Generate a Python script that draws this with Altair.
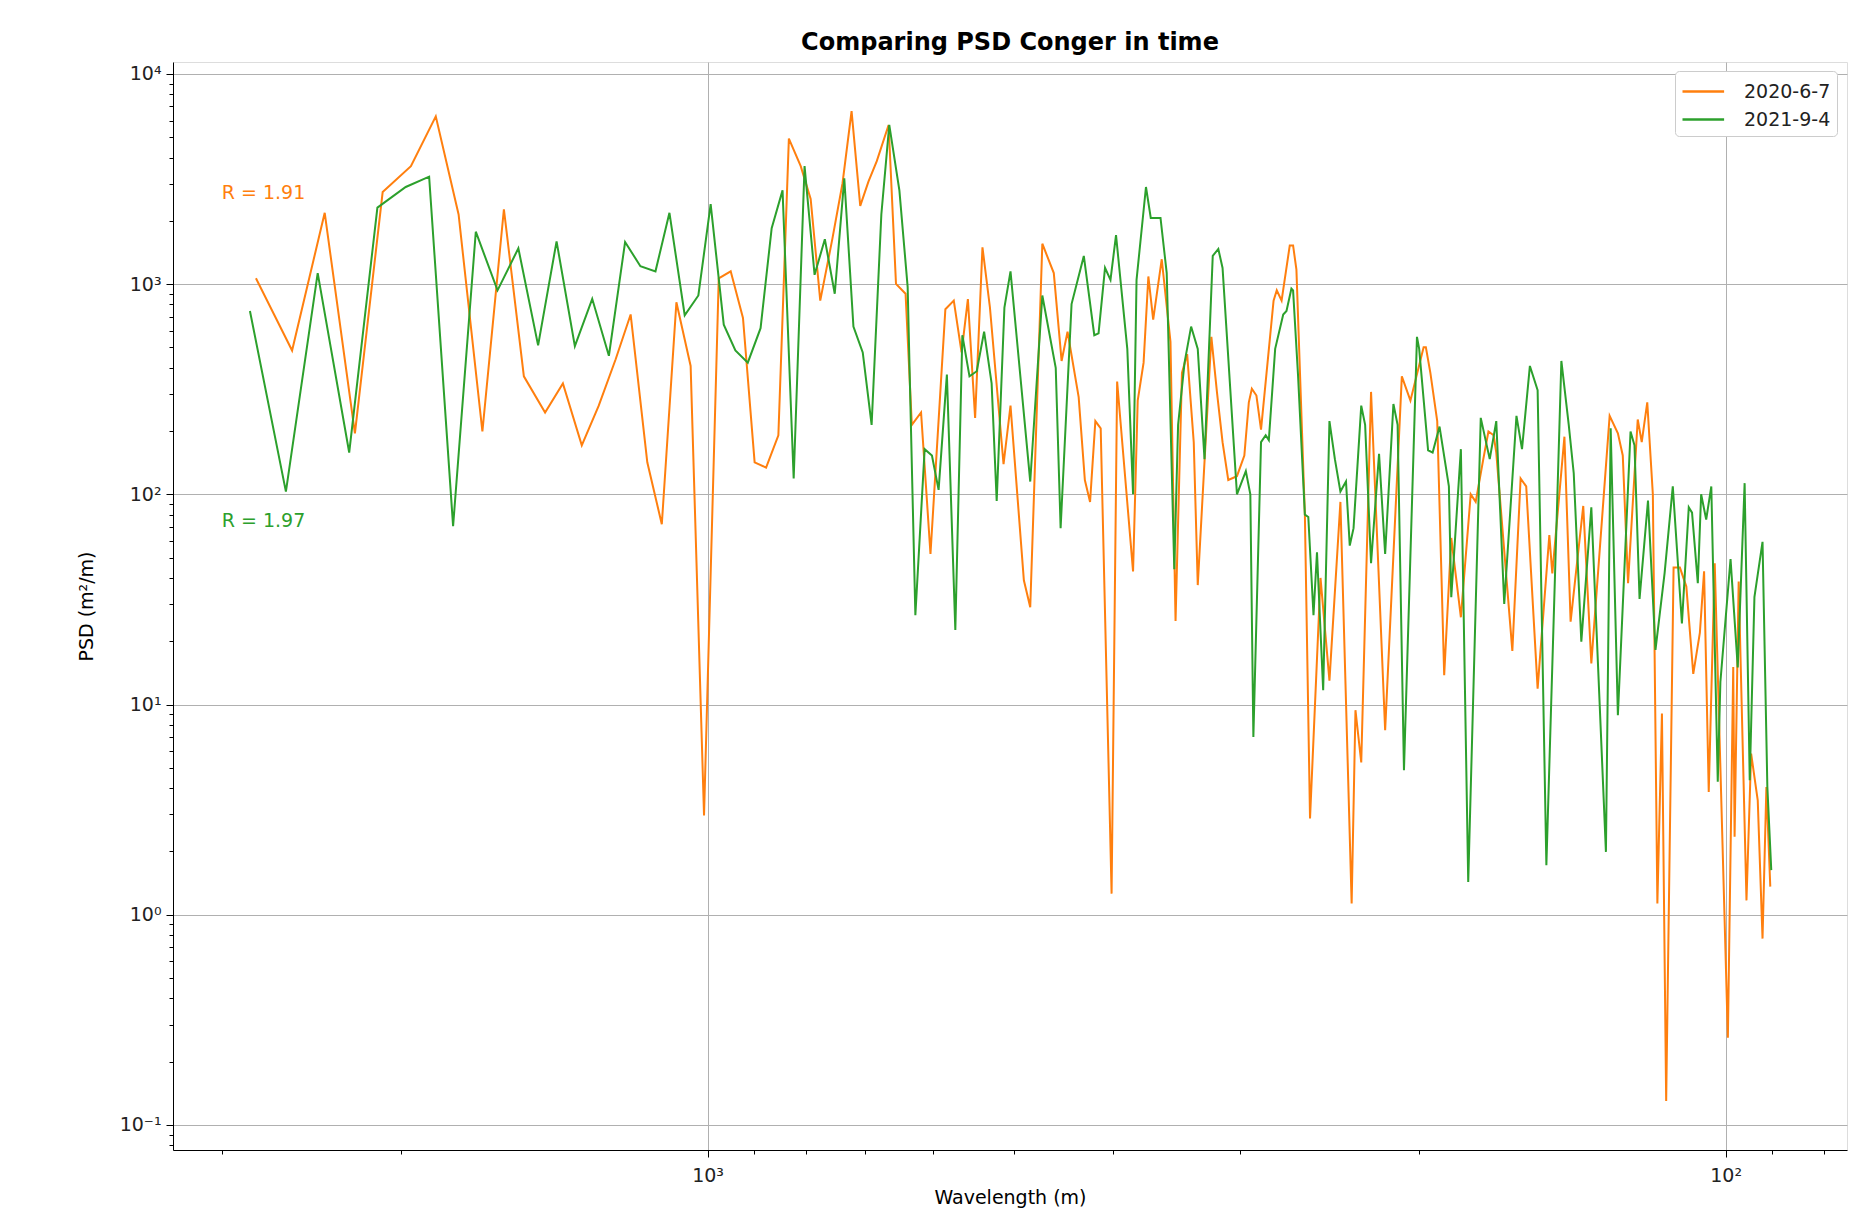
import altair as alt
import pandas as pd

# ---- data ----
series_names = ["2020-6-7", "2021-9-4"]
series_colors = ["#ff7f0e", "#2ca02c"]

orange_wl = [2777, 2559, 2377, 2220, 2085, 1956, 1849, 1756, 1664, 1585, 1515, 1444, 1387, 1329, 1279,
             1231, 1190, 1146, 1109, 1073, 1039, 1008, 975, 949, 923, 899, 876, 852, 832, 810, 792, 775,
             754, 737, 722, 708, 695, 682, 664, 653, 639, 630, 617, 604, 584, 573, 563, 555, 546, 537,
             528, 512, 504, 489, 482, 469, 457, 449, 443, 432, 426, 421, 416, 411, 401, 396, 382, 378,
             373, 369, 365, 358, 351, 347, 342, 338, 333, 330, 320, 316, 312, 308, 302, 297, 294, 292,
             289, 286, 278, 276, 273, 268, 266, 264, 259, 256, 250, 245, 239, 233, 231, 228, 223, 216,
             208, 204, 198, 197, 195, 192, 189, 186, 182, 178, 176, 173, 171, 169, 168, 162, 159, 157,
             153, 149, 148, 144, 142, 138, 135.5, 130, 127.6, 126.2, 124.7, 122.0, 120.9, 119.4, 117.9,
             116.7, 115.5, 114.4, 112.5, 110.9, 109.3, 107.6, 106.0, 105.0, 103.9, 102.5, 99.5, 98.3,
             98.0, 97.1, 95.4, 94.4, 93.0, 92.0, 91.2, 90.4]
orange_psd = [1066, 483, 2183, 195, 2741, 3640, 6280, 2143, 199, 2270, 364, 245, 337, 171, 264,
              439, 717, 142, 72, 819, 408, 2.97, 1066, 1150, 690, 142, 134, 191, 4920, 3640, 2541, 834,
              1645, 3010, 6650, 2356, 3070, 3845, 5716, 1003, 900, 214, 245, 52, 759, 834, 473, 849, 231, 1497,
              774, 139, 264, 39, 29, 1556, 1128, 431, 594, 290, 117, 92, 223, 206, 1.26, 344, 43, 279,
              423, 1087, 678, 1313, 531, 25, 378, 464, 177, 37, 561, 307, 177, 117, 122, 153, 274, 318,
              295, 203, 834, 934, 834, 1527, 1527, 1172, 80, 2.87, 40, 13, 92, 1.13, 9.4, 5.3, 307, 7.55,
              364, 279, 501, 501, 378, 223, 13.8, 62, 26, 100, 92, 147, 199, 191, 158, 18, 119, 109,
              11.9, 64, 42, 188, 24.8, 88, 15.7, 236, 195, 153, 37.8, 227, 177, 274, 100,
              1.13, 9.06, 0.13, 44.8, 44.8, 36.4, 14, 22, 43, 3.84, 47, 0.26, 15.1,
              2.35, 38.5, 1.17, 5.84, 3.5, 0.77, 4.05, 1.36]

green_wl = [2815, 2595, 2415, 2249, 2110, 1979, 1877, 1778, 1689, 1608, 1534, 1467, 1407, 1350, 1298,
            1250, 1205, 1164, 1125, 1090, 1053, 1021, 993, 964, 939, 913, 887, 865, 844, 823, 803, 785,
            767, 750, 734, 719, 704, 690, 675, 663, 648, 636, 625, 612, 602, 593, 582, 571, 562, 553,
            544, 535, 526, 520, 511, 504, 482, 469, 455, 450, 439, 427, 417, 413, 407, 402, 397, 387,
            382, 379, 371, 367, 359, 354, 348, 345, 340, 335, 330, 325, 319, 315, 312, 302, 296, 293,
            291, 286, 283, 281, 277, 272, 270, 267, 266, 263, 259, 257, 254, 252, 248.5, 245, 242, 239,
            236, 234, 232, 228, 226, 223, 219, 216, 212, 210, 207, 201, 200, 196, 194, 191, 187, 186,
            182, 179, 174, 170.5, 168, 165, 160.5, 158.5, 155.7, 153, 150, 145, 142.6, 141, 138.6,
            135.5, 131.1, 129.7, 127.6, 124.0, 122.9, 121.5, 119.2, 117.2, 114.8, 112.7, 110.4, 108.7,
            107.9, 106.5, 105.7, 104.5, 103.3, 101.8, 101.2, 98.9, 97.3, 95.8, 94.7, 93.7, 92.0, 91.0,
            90.2]
green_psd = [745, 103, 1128, 158, 2312, 2897, 3245, 70.5, 1775, 934, 1480, 511, 1597, 507, 851,
             456, 1585, 1217, 1150, 2183, 711, 883, 2399, 641, 483, 423, 617, 1845, 2792, 119, 3640, 1107,
             1634, 900, 3185, 628, 473, 214, 2143, 5716, 2792, 970, 26.6, 164, 153, 105, 371, 22.6, 571, 364,
             385, 594, 337, 93, 774, 1150, 115, 883, 400, 69, 803, 1362, 571, 583, 1194, 1047, 1710, 492,
             100, 1047, 2897, 2065, 2065, 1128, 44, 214, 423, 628, 492, 147, 1362, 1469, 1194, 100, 129, 100,
             7.0, 177, 191, 181, 492, 717, 745, 952, 934, 364, 80, 78, 26.6, 53, 11.7, 223, 147, 103,
             115, 57, 69, 264, 214, 47, 156, 52, 269, 214, 4.87, 561, 492, 162, 158, 210, 109, 32.4,
             164, 1.43, 231, 147, 223, 30.1, 236, 164, 408, 313, 1.72, 431, 214, 126, 19.9,
             86.7, 1.99, 206, 8.9, 199, 171, 31.8, 93.3, 18.2, 42.3, 109, 24.3, 86.7,
             81.8, 37.8, 100, 75.9, 109, 4.29, 12.8, 49.2, 15, 113, 4.36, 32.4, 59.4, 4.05,
             1.63]

ann_text = ["R = 1.91", "R = 1.97"]
ann_wl = [3000, 3000]
ann_psd = [2700, 75]

x_major = [1000, 100]
x_minor = [3000, 2000, 900, 800, 700, 600, 500, 400, 300, 200, 90, 80]
x_major_labels = ["10³", "10²"]
y_major = [0.1, 1, 10, 100, 1000, 10000]
y_major_labels = ["10⁻¹", "10⁰", "10¹", "10²", "10³", "10⁴"]
y_minor = [0.08, 0.09, 0.2, 0.3, 0.4, 0.5, 0.6, 0.7, 0.8, 0.9, 2, 3, 4, 5, 6, 7, 8, 9,
           20, 30, 40, 50, 60, 70, 80, 90, 200, 300, 400, 500, 600, 700, 800, 900,
           2000, 3000, 4000, 5000, 6000, 7000, 8000, 9000]

# ---- build table ----
df = pd.concat([
    pd.DataFrame({"wl": orange_wl, "psd": orange_psd, "series": series_names[0]}),
    pd.DataFrame({"wl": green_wl, "psd": green_psd, "series": series_names[1]}),
], ignore_index=True)
df_ann = pd.DataFrame({"wl": ann_wl, "psd": ann_psd, "txt": ann_text})


def label_expr(values, labels):
    expr = "''"
    for v, l in reversed(list(zip(values, labels))):
        expr = f"datum.value == {v} ? '{l}' : ({expr})"
    return expr


def major_test(values):
    return "indexof([" + ",".join(str(v) for v in values) + "], datum.value) >= 0"


FONT = "DejaVu Sans"
xtest = major_test(x_major)
ytest = major_test(y_major)

xscale = alt.Scale(type="log", domain=[76, 3350], reverse=True, nice=False)
yscale = alt.Scale(type="log", domain=[0.076, 11390], nice=False)

xaxis = alt.Axis(
    values=x_major + x_minor, labelExpr=label_expr(x_major, x_major_labels),
    title="Wavelength (m)", titleFontWeight="normal", titleFontSize=19, titleFont=FONT,
    titlePadding=3, titleColor="#000",
    labelFont=FONT, labelFontSize=19, labelColor="#222", labelOverlap=False, labelFlush=False,
    labelPadding=9,
    grid=True, gridColor="#b0b0b0", gridWidth=1,
    gridOpacity={"condition": {"test": xtest, "value": 1}, "value": 0},
    tickSize={"condition": {"test": xtest, "value": 7}, "value": 4},
    tickColor="#000", domainColor="#000",
)
yaxis = alt.Axis(
    values=y_major + y_minor, labelExpr=label_expr(y_major, y_major_labels),
    title="PSD (m²/m)", titleFontWeight="normal", titleFontSize=19, titleFont=FONT,
    titlePadding=23, titleColor="#000",
    labelFont=FONT, labelFontSize=19, labelColor="#222", labelOverlap=False, labelFlush=False,
    labelPadding=5,
    grid=True, gridColor="#b0b0b0", gridWidth=1,
    gridOpacity={"condition": {"test": ytest, "value": 1}, "value": 0},
    tickSize={"condition": {"test": ytest, "value": 7}, "value": 4},
    tickColor="#000", domainColor="#000",
)

lines = alt.Chart(df).mark_line(strokeWidth=2, clip=True).encode(
    x=alt.X("wl:Q", scale=xscale, axis=xaxis),
    y=alt.Y("psd:Q", scale=yscale, axis=yaxis),
    color=alt.Color(
        "series:N",
        scale=alt.Scale(domain=series_names, range=series_colors),
        legend=alt.Legend(
            title=None, orient="none", legendX=1502, legendY=9,
            symbolType="M-1,0H2.2", symbolSize=676, symbolStrokeWidth=2.5,
            labelFont=FONT, labelFontSize=19, labelColor="#222", labelOffset=34,
            padding=6, rowPadding=3, strokeColor="#cccccc", cornerRadius=4, fillColor="white",
        ),
    ),
    detail="series:N",
)

ann1 = alt.Chart(df_ann.iloc[[0]]).mark_text(
    align="left", baseline="middle", font=FONT, fontSize=19, color=series_colors[0]
).encode(x=alt.X("wl:Q", scale=xscale), y=alt.Y("psd:Q", scale=yscale), text="txt:N")
ann2 = alt.Chart(df_ann.iloc[[1]]).mark_text(
    align="left", baseline="middle", font=FONT, fontSize=19, color=series_colors[1]
).encode(x=alt.X("wl:Q", scale=xscale), y=alt.Y("psd:Q", scale=yscale), text="txt:N")

chart = alt.layer(lines, ann1, ann2).properties(
    width=1674, height=1088,
    title=alt.TitleParams("Comparing PSD Conger in time", font=FONT, fontSize=24,
                          fontWeight="bold", color="#000", offset=7, anchor="middle"),
    autosize=alt.AutoSizeParams(type="none"),
    padding={"left": 165, "top": 54, "right": 8, "bottom": 60},
).configure_view(stroke="#000", strokeWidth=1).configure(background="white")

chart.save("out.html", embed_options={"renderer": "svg", "actions": False})
